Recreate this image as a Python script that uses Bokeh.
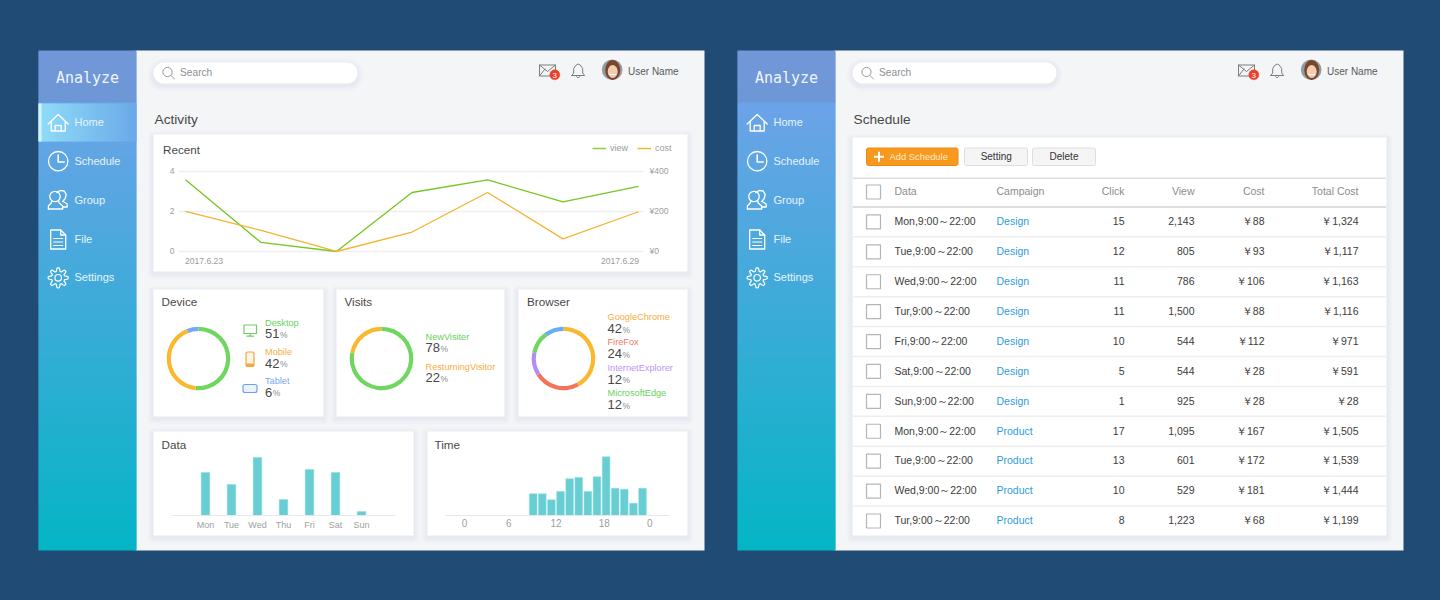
#! /usr/bin/python3

import numpy as np
from bokeh.core.properties import value
from bokeh.embed import file_html
from bokeh.layouts import column
from bokeh.models import (FactorRange, FixedTicker, GlobalInlineStyleSheet,
	Legend, LegendItem, LinearAxis, Range1d)
from bokeh.plotting import figure
from bokeh.resources import INLINE

# Recent
recent_x = [0, 1, 2, 3, 4, 5, 6]
recent_view = [3.57, 0.45, 0.0, 2.94, 3.57, 2.47, 3.24]
recent_cost = [200, 105, 0, 97, 294, 63, 198]
recent_view_ticks = [0, 2, 4]
recent_cost_ticks = [0, 200, 400]
recent_cost_labels = ['¥0', '¥200', '¥400']
recent_date_ticks = [0.245, 5.755]
recent_date_labels = ['2017.6.23', '2017.6.29']

# Rings
device_names = ['Desktop', 'Mobile', 'Tablet']
device_values = [51, 42, 6]
device_colors = ['#6fd65f', '#f9b82e', '#78a8f2']
visits_names = ['NewVisiter', 'ResturningVisitor']
visits_values = [78, 22]
visits_colors = ['#6fd65f', '#f9b82e']
browser_names = ['GoogleChrome', 'FireFox', 'InternetExplorer', 'MicrosoftEdge']
browser_values = [42, 24, 12, 12]
browser_rest = 10
browser_colors = ['#f9b82e', '#f5725a', '#b08ef5', '#6fd65f', '#64aef5']

# Data bars
days = ['Mon', 'Tue', 'Wed', 'Thu', 'Fri', 'Sat', 'Sun']
day_values = [43, 31, 58, 16, 46, 43, 4]

# Time bars
time_x = [9, 10, 11, 12, 13, 14, 15, 16, 17, 18, 19, 20, 21]
time_values = [21.7, 21.7, 15.7, 24, 36.7, 38, 24, 38.7, 58.7, 27.3, 26.3, 12.3, 27.3]
time_ticks = [1.46, 6.32, 11.5, 16.8, 21.8]
time_labels = ['0', '6', '12', '18', '0']

# Schedule table
table_head = ['Data', 'Campaign', 'Click', 'View', 'Cost', 'Total Cost']
table_data = ['Mon,9:00～22:00', 'Tue,9:00～22:00', 'Wed,9:00～22:00', 'Tur,9:00～22:00', 'Fri,9:00～22:00',
	'Sat,9:00～22:00', 'Sun,9:00～22:00', 'Mon,9:00～22:00', 'Tue,9:00～22:00', 'Wed,9:00～22:00', 'Tur,9:00～22:00']
table_campaign = ['Design'] * 7 + ['Product'] * 4
table_click = ['15', '12', '11', '11', '10', '5', '1', '17', '13', '10', '8']
table_view = ['2,143', '805', '786', '1,500', '544', '544', '925', '1,095', '601', '529', '1,223']
table_cost = ['￥88', '￥93', '￥106', '￥88', '￥112', '￥28', '￥28', '￥167', '￥172', '￥181', '￥68']
table_total = ['￥1,324', '￥1,117', '￥1,163', '￥1,116', '￥971', '￥591', '￥28', '￥1,505', '￥1,539', '￥1,444', '￥1,199']

menu_names = ['Home', 'Schedule', 'Group', 'File', 'Settings']

SANS = 'Liberation Sans'
MONO = 'DejaVu Sans Mono'
BAR = '#68ced4'

bg = figure(frame_width=1440, frame_height=600, x_range=(0, 1440), y_range=(600, 0), output_backend='svg', toolbar_location=None,
	x_axis_location=None, y_axis_location=None, min_border=0, outline_line_color=None, frame_align=False,
	background_fill_color='#1f4b75', border_fill_color='#1f4b75')
bg.grid.visible = False
bg.stylesheets = [GlobalInlineStyleSheet(css='html,body{background:#1f4b75;margin:0;overflow:hidden;}')]

def label(x, y, s, size, color, align='left', font=SANS):
	bg.text([x], [y - 0.7], [s], text_font=value(font), text_font_size=str(size) + 'px', text_color=color,
		text_align=align, text_baseline='middle')

def line(xs, ys, color='#ffffff', width=1.3):
	bg.line(xs, ys, line_color=color, line_width=width, line_join='round', line_cap='round')

def ring(x, y, r, color='#ffffff', width=1.3, fill=None):
	bg.circle([x], [y], radius=r, line_color=color, line_width=width, fill_color=fill, fill_alpha=1 if fill else 0)

def box(l, t, r, b, color='#ffffff', radius=0, edge=None, width=1):
	bg.quad(left=[l], right=[r], top=[t], bottom=[b], fill_color=color, line_color=edge, line_width=width,
		border_radius=radius)

def shadow(l, t, r, b, radius=0):
	for i in range(6, 0, -1):
		bg.quad(left=[l - i], right=[r + i], top=[t - i + 2], bottom=[b + i + 2], fill_color='#5a6a80',
			fill_alpha=0.012, line_color=None, border_radius=radius + i)

def card(l, t, r, b):
	shadow(l, t, r, b)
	box(l, t, r, b)

def mix(a, b, t):
	ca = [int(a[i:i + 2], 16) for i in (1, 3, 5)]
	cb = [int(b[i:i + 2], 16) for i in (1, 3, 5)]
	return '#%02x%02x%02x' % tuple(int(round(p + (q - p) * t)) for p, q in zip(ca, cb))

def panel(dx, title, active):
	box(135 + dx, 50, 704 + dx, 550, '#f3f5f7')
	# sidebar gradient, strips overlap so no seams show
	rows = np.arange(50, 102, 2)
	bg.quad(left=38 + dx, right=136 + dx, top=rows, bottom=rows + 3, line_color=None,
		fill_color=[mix('#7397d8', '#6d97d6', (y - 50) / 52) for y in rows])
	rows = np.arange(102, 550, 2)
	bg.quad(left=38 + dx, right=136 + dx, top=rows, bottom=np.minimum(rows + 3, 550), line_color=None,
		fill_color=[mix('#6ca3e8', '#04b5c5', (y - 102) / 448) for y in rows])
	label(87 + dx, 78.5, 'Analyze', 15, '#eef5fc', 'center', MONO)
	if active:
		cols = np.arange(38, 136, 2)
		bg.quad(left=cols, right=np.minimum(cols + 3, 136), top=103, bottom=141, line_color=None,
			fill_color=[mix('#8fdcf8', '#6aa8e8', (x - 38) / 98) for x in cols])
		box(38, 103, 41, 141, '#d8f3fb')
	for name, y in zip(menu_names, [122.5, 161.5, 200.5, 239.5, 277.5]):
		label(74 + dx, y, name, 11, '#e6f4fb')

	# home
	x = 57.7 + dx
	line([x - 10, x, x + 10], [123.5, 114, 123.5])
	line([x - 7, x - 7, x + 7, x + 7], [121.5, 130.5, 130.5, 121.5])
	line([x - 3, x - 3, x + 3, x + 3], [130.5, 125, 125, 130.5])
	# clock
	ring(x, 160.7, 9.7)
	line([x, x, x + 6], [154.5, 161.5, 161.5], width=1.6)
	# group
	ring(x - 3.2, 196, 5.2)
	line([x - 9.8, x - 9.8, x - 7, x - 6.5], [208.5, 205.5, 202.5, 200.5])
	line([x - 9.8, x + 4.5, x + 4.5, x + 1, x + 0.5], [208.5, 208.5, 205.5, 202.5, 200.5])
	line([x - 1.5, x + 2, x + 6, x + 8, x + 7, x + 4.5], [192, 190, 190.5, 194, 198, 201])
	line([x + 5, x + 9, x + 9, x + 4.5], [201, 203.5, 206.5, 206.5])
	# file
	line([x - 7.5, x + 2.5, x + 7.5, x + 7.5, x - 7.5, x - 7.5], [229.5, 229.5, 234.5, 248.5, 248.5, 229.5])
	line([x + 2.5, x + 2.5, x + 7.5], [229.5, 234.5, 234.5])
	for y in [238, 241.5, 245]:
		line([x - 4.5, x + 4.5], [y, y], width=1.1)
	# gear
	a = np.linspace(0, 2 * np.pi, 65)
	r = 8.3 + 1.7 * np.clip(3 * np.cos(8 * a), -1, 1)
	line(list(x + r * np.sin(a)), list(277.3 + r * np.cos(a)), width=1.2)
	ring(x, 277.3, 3.3, width=1.2)

	# header
	shadow(153 + dx, 62, 357 + dx, 83, 10)
	box(153 + dx, 62, 357 + dx, 83, radius=10)
	ring(167 + dx, 71.5, 4.6, '#9a9a9a', 1)
	line([170.5 + dx, 174 + dx], [75, 78.5], '#9a9a9a', 1)
	label(179.5 + dx, 72.5, 'Search', 10.2, '#8f8f8f')
	line([539 + dx, 555 + dx, 555 + dx, 539 + dx, 539 + dx, 547 + dx, 555 + dx], [64.5, 64.5, 75.5, 75.5, 64.5, 71, 64.5], '#7c7c7c', 1)
	line([539 + dx, 544.5 + dx], [75.5, 68.5], '#7c7c7c', 1)
	ring(554.3 + dx, 74.3, 5, '#e8412a', 0.5, '#e8412a')
	label(554.3 + dx, 75.2, '3', 8, '#ffffff', 'center')
	bx = 577.7 + dx
	line([bx - 6.5, bx - 4.5, bx - 4.5, bx - 2, bx, bx + 2, bx + 4.5, bx + 4.5, bx + 6.5, bx - 6.5],
		[75, 72.5, 68, 64.5, 63.5, 64.5, 68, 72.5, 75, 75], '#7c7c7c', 1)
	line([bx - 1.5, bx, bx + 1.5], [76, 77.5, 76], '#7c7c7c', 1)
	ax = 611.7 + dx
	ring(ax, 69.3, 10.3, '#8f9ba5', 0, '#8f9ba5')
	bg.ellipse([ax + 0.5], [69.5], width=15, height=20, fill_color='#7a4528', line_color=None)
	bg.ellipse([ax + 0.5], [71], width=10, height=13, fill_color='#f3cbb0', line_color=None)
	line([ax - 2.5, ax + 3.5], [74, 74], '#ffffff', 1.2)
	label(627.5 + dx, 71.7, 'User Name', 10, '#5a5a5a')
	label(154 + dx, 120, title, 13.7, '#484848')

panel(0, 'Activity', True)
panel(699, 'Schedule', False)

# left page cards
card(153, 134, 687, 271)
card(153, 289, 323, 416)
card(336, 289, 504, 416)
card(518, 289, 687, 416)
card(153, 431, 413, 535)
card(427, 431, 687, 535)
label(162.5, 150, 'Recent', 11.7, '#484848')
label(161, 302, 'Device', 11.7, '#484848')
label(344, 302, 'Visits', 11.7, '#484848')
label(526.5, 302, 'Browser', 11.7, '#484848')
label(161, 444.5, 'Data', 11.7, '#484848')
label(434, 444.5, 'Time', 11.7, '#484848')

def share(x, y_name, y_value, name, number, color, size=13):
	label(x, y_name, name, 9.2, color)
	digits = str(number)
	label(x, y_value, digits, size, '#484848')
	label(x + len(digits) * size * 0.556 + 0.5, y_value + 1, '%', 8.5, '#8a8a8a')

for name, number, color, y in zip(device_names, device_values, ['#69d05b', '#f8ad45', '#7aa9f0'], [322.7, 352, 381]):
	share(264.5, y, y + 11.3, name, number, color)
for name, number, color, y in zip(visits_names, visits_values, ['#69d05b', '#f8ad45'], [336.7, 367]):
	share(425, y, y + 11, name, number, color)
for name, number, color, y in zip(browser_names, browser_values, ['#f8ad45', '#f27a62', '#bb96f3', '#69d05b'], [317, 342, 367.7, 393]):
	share(607, y, y + 11.8, name, number, color)

# device icons
g = '#6fcf5f'
line([243.5, 256, 256, 243.5, 243.5], [324.5, 324.5, 333, 333, 324.5], g, 1.2)
line([249.7, 249.7], [333, 335.5], g, 1.2)
line([246.5, 253], [335.7, 335.7], g, 1.2)
box(245.5, 351.5, 253.5, 366, '#fff4e4', 2, '#f5a641', 1.2)
box(245.5, 363, 253.5, 366, '#f5a641', 1)
box(242.5, 384, 256.5, 392, '#eaf2fe', 2, '#6ea0f0', 1.2)

# right page card and its toolbar
card(852, 137, 1386, 535)
box(866, 147.5, 957.5, 165, '#f8991f', 2, '#ee8a12')
bg.quad(left=[873.5, 877.5], right=[883.5, 879.5], top=[155.3, 151.3], bottom=[157.3, 161.3], fill_color='#ffffff', line_color=None)
label(889, 156.5, 'Add Schedule', 9.4, '#ffe8c4')
box(964, 147.5, 1027, 165, '#f5f5f5', 2, '#dedede')
label(995.7, 156.5, 'Setting', 10, '#333333', 'center')
box(1032, 147.5, 1095, 165, '#f5f5f5', 2, '#dedede')
label(1063.5, 156.5, 'Delete', 10, '#333333', 'center')

def chart(x, y, **kw):
	p = figure(output_backend='svg', toolbar_location=None, background_fill_color=None, border_fill_color=None,
		outline_line_color=None, frame_align=False, **kw)
	p.styles = {'position': 'absolute', 'left': str(x) + 'px', 'top': str(y) + 'px'}
	return p

def quiet_axis(axis, size='10px', color='#9c9c9c', standoff=3):
	axis.axis_line_color = None
	axis.major_tick_line_color = None
	axis.minor_tick_line_color = None
	axis.major_tick_out = 0
	axis.major_tick_in = 0
	axis.minor_tick_out = 0
	axis.minor_tick_in = 0
	axis.major_label_text_font = SANS
	axis.major_label_text_font_size = size
	axis.major_label_text_color = color
	axis.major_label_standoff = standoff

# Recent line chart
recent = chart(153, 134, frame_width=465, frame_height=112, x_range=Range1d(-0.093, 6.066), y_range=Range1d(-0.05, 5.53),
	min_border_left=25, min_border_right=44, min_border_top=6, min_border_bottom=19)
recent.extra_y_ranges = {'cost': Range1d(-5, 553)}
right_axis = LinearAxis(y_range_name='cost', ticker=FixedTicker(ticks=recent_cost_ticks),
	major_label_overrides=dict(zip(recent_cost_ticks, recent_cost_labels)))
recent.add_layout(right_axis, 'right')
quiet_axis(right_axis, '8.6px', standoff=6)
quiet_axis(recent.yaxis[0], '8.6px', standoff=4)
recent.yaxis[0].ticker = FixedTicker(ticks=recent_view_ticks)
quiet_axis(recent.xaxis[0], '8.6px', standoff=5)
recent.xaxis[0].ticker = FixedTicker(ticks=recent_date_ticks)
recent.xaxis[0].major_label_overrides = dict(zip(recent_date_ticks, recent_date_labels))
recent.xgrid.visible = False
recent.ygrid.ticker = FixedTicker(ticks=recent_view_ticks)
recent.ygrid.grid_line_color = '#edeff1'
recent.ygrid.grid_line_width = 1.3
recent.line(recent_x, recent_view, line_color='#74c71f', line_width=1.3)
recent.line(recent_x, recent_cost, line_color='#f2b431', line_width=1.3, y_range_name='cost')

# the legend hangs past the line chart's frame, so it gets a small figure of its own;
# its ranges are off to the side of the series, only the legend shows
key = chart(590, 140, frame_width=90, frame_height=18, x_range=Range1d(100, 101), y_range=Range1d(100, 101), min_border=0,
	x_axis_location=None, y_axis_location=None)
key.grid.visible = False
key_view = key.line(recent_x, recent_view, line_color='#8cd03e', line_width=1.5)
key_cost = key.line(recent_x, recent_cost, line_color='#f2b431', line_width=1.5)
key.add_layout(Legend(items=[LegendItem(label='view', renderers=[key_view]), LegendItem(label='cost', renderers=[key_cost])],
	orientation='horizontal', location=(2, 5), padding=0, margin=0, spacing=7, glyph_width=14, glyph_height=10,
	label_standoff=4, label_text_font=SANS, label_text_font_size='9px', label_text_color='#9c9c9c',
	background_fill_color=None, border_line_color=None))

# Rings
def donut(cx, cy, values, colors):
	p = chart(cx - 35, cy - 35, frame_width=70, frame_height=70, x_range=Range1d(-35, 35), y_range=Range1d(-35, 35), min_border=0,
		x_axis_location=None, y_axis_location=None)
	p.grid.visible = False
	share_sum = np.cumsum(values) / sum(values)
	stops = np.concatenate([[0], share_sum])
	p.annular_wedge(0, 0, inner_radius=27.6, outer_radius=31.8, start_angle=np.pi / 2 - 2 * np.pi * stops[:-1],
		end_angle=np.pi / 2 - 2 * np.pi * stops[1:], direction='clock', fill_color=colors, line_color=None)
	return p

device = donut(198.3, 357.7, device_values, device_colors)
visits = donut(380.7, 358, visits_values, visits_colors)
browser = donut(562.7, 357.7, browser_values + [browser_rest], browser_colors)

# Data bars
data_range = FactorRange(factors=days, range_padding=0.2308, factor_padding=0)
data = chart(153, 431, frame_width=224, frame_height=65, x_range=data_range, y_range=Range1d(0, 65),
	min_border_left=18, min_border_right=18, min_border_top=19, min_border_bottom=20, y_axis_location=None)
data.grid.visible = False
data.vbar(x=days, top=day_values, width=0.33, fill_color=BAR, line_color='#8adde0', line_width=0.5)
quiet_axis(data.xaxis[0], '9px', '#a0a0a0', 4)
data.xaxis[0].axis_line_color = '#e6e9ec'
data.xaxis[0].axis_line_width = 1.2

# Time bars
time = chart(427, 431, frame_width=224, frame_height=65, x_range=Range1d(-0.626, 23.96), y_range=Range1d(0, 65),
	min_border_left=18, min_border_right=18, min_border_top=19, min_border_bottom=20, y_axis_location=None)
time.grid.visible = False
time.vbar(x=time_x, top=time_values, width=0.84, fill_color=BAR, line_color='#8adde0', line_width=0.5)
quiet_axis(time.xaxis[0], '10px', '#a0a0a0', 3)
time.xaxis[0].ticker = FixedTicker(ticks=time_ticks)
time.xaxis[0].major_label_overrides = dict(zip(time_ticks, time_labels))
time.xaxis[0].axis_line_color = '#e6e9ec'
time.xaxis[0].axis_line_width = 1.2

# Schedule table: x in page pixels, y in rows
table = chart(852, 177, frame_width=534, frame_height=358, x_range=Range1d(852, 1386), y_range=Range1d(10.485, -1.485), min_border=0,
	x_axis_location=None, y_axis_location=None)
table.grid.visible = False
rows = list(range(len(table_data)))
row_lines = [r - 0.5 for r in rows[1:]]
table.segment(x0=852, x1=1386, y0=row_lines, y1=row_lines, line_color='#eeeeee', line_width=1.5)
table.segment(x0=[852, 852], x1=[1386, 1386], y0=[-1.47, -0.5], y1=[-1.47, -0.5], line_color='#dedede', line_width=2)
table.scatter(873, [-1] + rows, marker='square', size=14, fill_color='#ffffff', line_color='#b5b5b5', line_width=1.2)

def column_text(x, ys, texts, color, align='left'):
	table.text(x, ys, texts, text_font=value(SANS), text_font_size='10.5px', text_color=color, text_align=align,
		text_baseline='middle', y_offset=-0.7)

for x, name, align in zip([894, 996, 1124, 1194, 1264, 1358], table_head, ['left', 'left', 'right', 'right', 'right', 'right']):
	column_text(x, [-1], [name], '#8c8c8c', align)
column_text(894, rows, table_data, '#3c3c3c')
column_text(996, rows, table_campaign, '#2f9ce0')
column_text(1124, rows, table_click, '#3c3c3c', 'right')
column_text(1194, rows, table_view, '#3c3c3c', 'right')
column_text(1264, rows, table_cost, '#3c3c3c', 'right')
column_text(1358, rows, table_total, '#3c3c3c', 'right')

p = column(bg, recent, key, device, visits, browser, data, time, table)
open('out.html', 'w').write(file_html(p, INLINE))
